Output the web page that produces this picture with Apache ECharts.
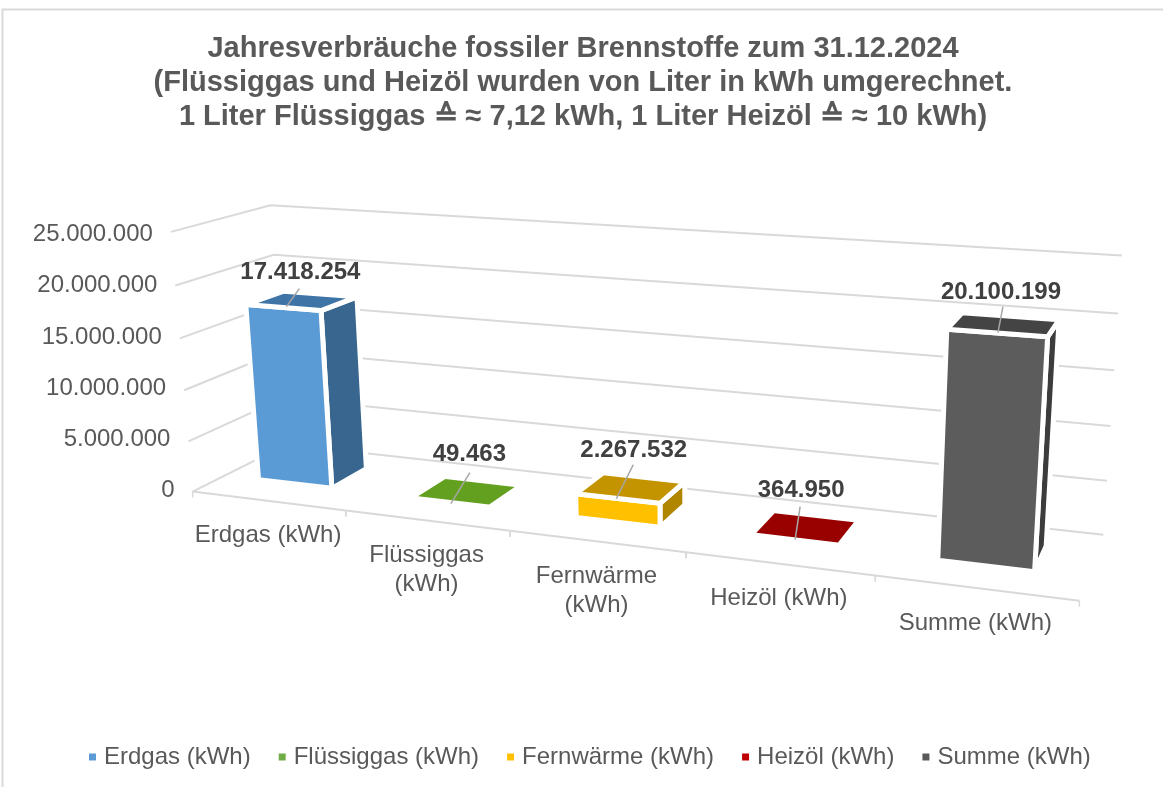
<!DOCTYPE html>
<html>
<head>
<meta charset="utf-8">
<style>html,body{margin:0;padding:0;background:#fff}#main{width:1163px;height:787px}</style>
<script src="https://cdn.jsdelivr.net/npm/echarts@6/dist/echarts.min.js"></script>
</head>
<body>
<div id="main"></div>
<script>
var titleLines = [
    'Jahresverbräuche fossiler Brennstoffe zum 31.12.2024',
    '(Flüssiggas und Heizöl wurden von Liter in kWh umgerechnet.',
    '1 Liter Flüssiggas ≙ ≈ 7,12 kWh, 1 Liter Heizöl ≙ ≈ 10 kWh)'
];
var categories = ['Erdgas (kWh)', 'Flüssiggas (kWh)', 'Fernwärme (kWh)', 'Heizöl (kWh)', 'Summe (kWh)'];
var axisNames = ['Erdgas (kWh)', 'Flüssiggas\n(kWh)', 'Fernwärme\n(kWh)', 'Heizöl (kWh)', 'Summe (kWh)'];
var values = [17418254, 49463, 2267532, 364950, 20100199];
var yTicks = [0, 5000000, 10000000, 15000000, 20000000, 25000000];

// colours per bar: front, side + top, legend
var frontColors = ['#5B9BD5', '#70AD47', '#FFC000', '#C00000', '#5C5C5C'];
var topColors = ['#3E74A6', '#64A020', '#C49400', '#990000', '#444444'];
var sideColors = ['#38668F', '#64A020', '#B08500', '#990000', '#3C3C3C'];
var legendColors = ['#5B9BD5', '#70AD47', '#FFC000', '#C00000', '#595959'];

var TEXT = '#595959';
var FONT = '"Liberation Sans", Arial, sans-serif';
var FONT_SIZE = 24;
var BAR_WIDTH = 0.49;   // share of a category
var DEPTH_FROM = 0.32, DEPTH_TO = 0.72;
var barNudge = [-4, -2.5, -1, -1, -1];   // bars sit a bit left of the category middle

// label and leader offsets against the middle of a bar's top face
var labelShift = [[-1, -28.5], [3, -37.5], [3.5, -37.5], [-4, -37.5], [-2, -32.5]];
var leaderFrom = [[-2, -12], [3.5, -19], [3, -23], [-5, -21], [0, -18]];
var leaderTo = [[-15, 6], [-15.5, 12], [-14, 11], [-10, 12], [-5, 8]];

// camera: where known corners of the 3d box land on screen [u, depth, height, x, y]
var camera = [
    [0, 0, 0, 192, 490], [1, 0, 0, 1078, 600], [0, 1, 0, 289, 445], [1, 1, 0, 1103, 533],
    [0, 1, 1, 268, 207], [1, 1, 1, 1122, 257], [0, 0, 1, 173, 232], [0, 1, 0.8, 273, 255],
    [0.2, 0, 0, 345, 512], [0.4, 0, 0, 510, 534], [0.6, 0, 0, 686, 556], [0.8, 0, 0, 876, 575],
    [1, 1, 0.8, 1119, 313], [1, 1, 0.6, 1114, 370], [1, 1, 0.4, 1111, 425], [1, 1, 0.2, 1107, 480],
    [0, 0, 0.8, 176, 285], [0, 0, 0.6, 180, 337], [0, 0, 0.4, 184, 388], [0, 0, 0.2, 188, 440]
];

// least squares for the 11 numbers of a projective camera
function solveCamera(points) {
    var n = 11, A = [], i, j, k;
    for (i = 0; i < n; i++) {
        A.push([]);
        for (j = 0; j <= n; j++) A[i].push(0);
    }
    function add(row, rhs) {
        for (var a = 0; a < n; a++) {
            for (var b = 0; b < n; b++) A[a][b] += row[a] * row[b];
            A[a][n] += row[a] * rhs;
        }
    }
    points.forEach(function (p) {
        var x = p[3] / 1000, y = p[4] / 1000;
        add([p[0], p[1], p[2], 1, 0, 0, 0, 0, -x * p[0], -x * p[1], -x * p[2]], x);
        add([0, 0, 0, 0, p[0], p[1], p[2], 1, -y * p[0], -y * p[1], -y * p[2]], y);
    });
    for (i = 0; i < n; i++) {
        var best = i;
        for (k = i + 1; k < n; k++) if (Math.abs(A[k][i]) > Math.abs(A[best][i])) best = k;
        var tmp = A[i]; A[i] = A[best]; A[best] = tmp;
        for (k = 0; k < n; k++) {
            if (k === i) continue;
            var f = A[k][i] / A[i][i];
            for (j = i; j <= n; j++) A[k][j] -= f * A[i][j];
        }
    }
    var m = [];
    for (i = 0; i < n; i++) m.push(A[i][n] / A[i][i]);
    return m;
}
var cam = solveCamera(camera);

function project(u, d, h) {
    var w = cam[8] * u + cam[9] * d + cam[10] * h + 1;
    return [
        1000 * (cam[0] * u + cam[1] * d + cam[2] * h + cam[3]) / w,
        1000 * (cam[4] * u + cam[5] * d + cam[6] * h + cam[7]) / w
    ];
}
// grid pixel -> screen pixel, the flat grid only supplies the scales
function fromGrid(sys, px, py, d) {
    return project((px - sys.x) / sys.width, d, (sys.y + sys.height - py) / sys.height);
}
function fmt(v) {
    return String(v).replace(/\B(?=(\d{3})+$)/g, '.');
}
function line(points, color, width) {
    return {type: 'polyline', shape: {points: points}, style: {stroke: color, lineWidth: width, fill: null}};
}
function text(str, x, y, align, weight, color) {
    return {
        type: 'text',
        style: {
            text: str, x: x, y: y, align: align, verticalAlign: 'middle', fill: color || TEXT,
            fontFamily: FONT, fontSize: FONT_SIZE, fontWeight: weight || 'normal', lineHeight: 29
        }
    };
}

function renderWall(params, api) {
    var sys = params.coordSys;
    var c = api.coord([0, api.value(0)]);
    var py = c[1];
    var left = sys.x, right = sys.x + sys.width;
    var a = fromGrid(sys, left, py, 0), b = fromGrid(sys, left, py, 1), e = fromGrid(sys, right, py, 1);
    return {type: 'group', children: [
        line([a, b, e], '#D9D9D9', 2),
        text(fmt(api.value(0)), a[0] - 18, py, 'right')
    ]};
}

function renderFloor(params, api) {
    var sys = params.coordSys;
    var i = params.dataIndex;
    var base = api.coord([i, 0]);
    var half = api.size([1, 0])[0] / 2;
    var from = fromGrid(sys, base[0] - half, base[1], 0);
    var to = fromGrid(sys, base[0] + half, base[1], 0);
    var mid = fromGrid(sys, base[0], base[1], 0);
    var kids = [
        line([from, to], '#D9D9D9', 2),
        line([from, [from[0], from[1] + 6]], '#D9D9D9', 1.5),
        line([to, [to[0], to[1] + 6]], '#D9D9D9', 1.5)
    ];
    var two = axisNames[i].indexOf('\n') >= 0;
    kids.push(text(axisNames[i], mid[0], mid[1] + (two ? 50 : 35), 'center'));
    return {type: 'group', children: kids};
}

function renderBar(params, api) {
    var sys = params.coordSys;
    var i = api.value(0);
    var top = api.coord([i, api.value(1)]);
    var base = api.coord([i, 0]);
    var half = api.size([1, 0])[0] / 2 * BAR_WIDTH;
    // very low bars are only their top face, no white frame, so they get pulled in by hand
    var tall = base[1] - top[1] > 8;
    var inX = tall ? 0 : 4, inD = tall ? 0 : 0.03;
    var x0 = top[0] + barNudge[i] - half + inX, x1 = top[0] + barNudge[i] + half - inX;
    var d0 = DEPTH_FROM + inD, d1 = DEPTH_TO - inD;
    var a = fromGrid(sys, x0, base[1], d0), b = fromGrid(sys, x1, base[1], d0);
    var c = fromGrid(sys, x1, top[1], d0), e = fromGrid(sys, x0, top[1], d0);
    var f = fromGrid(sys, x1, base[1], d1), g = fromGrid(sys, x1, top[1], d1);
    var h = fromGrid(sys, x0, top[1], d1);
    function face(points, color) {
        return {type: 'polygon', shape: {points: points}, style: {fill: color, stroke: tall ? '#fff' : null, lineWidth: tall ? 5 : 0, lineJoin: 'round'}};
    }
    var kids = [];
    if (tall) {
        kids.push(face([b, f, g, c], sideColors[i]));
        kids.push(face([a, b, c, e], frontColors[i]));
    }
    kids.push(face([e, c, g, h], topColors[i]));
    var cx = (e[0] + g[0]) / 2, cy = (e[1] + g[1]) / 2;
    kids.push(line([
        [cx + leaderFrom[i][0], cy + leaderFrom[i][1]],
        [cx + leaderTo[i][0], cy + leaderTo[i][1]]
    ], '#A6A6A6', 1.5));
    kids.push(text(fmt(api.value(1)), cx + labelShift[i][0], cy + labelShift[i][1], 'center', 'bold', '#404040'));
    return {type: 'group', children: kids};
}

var series = [
    {type: 'custom', name: 'wall', silent: true, z: 1, renderItem: renderWall, data: yTicks.map(function (t) { return [t]; }), encode: {y: 0}},
    {type: 'custom', name: 'floor', silent: true, z: 1, renderItem: renderFloor, data: categories.map(function (c, i) { return [i, 0]; }), encode: {x: 0, y: 1}}
];
categories.forEach(function (name, i) {
    series.push({
        type: 'custom',
        name: name,
        z: 2 + i,
        itemStyle: {color: legendColors[i]},
        renderItem: renderBar,
        encode: {x: 0, y: 1},
        data: [[i, values[i]]]
    });
});

var myEcharts = echarts.init(document.getElementById('main'));
myEcharts.setOption({
    animation: false,
    backgroundColor: '#fff',
    title: {
        text: titleLines.join('\n'),
        left: 578,
        top: 27,
        textAlign: 'center',
        textStyle: {fontFamily: FONT, fontSize: 29, fontWeight: 'bold', color: TEXT, lineHeight: 34}
    },
    legend: {
        data: categories,
        left: 84,
        top: 740,
        itemWidth: 7,
        itemHeight: 7,
        itemGap: 28,
        icon: 'rect',
        textStyle: {fontFamily: FONT, fontSize: FONT_SIZE, color: TEXT, padding: [0, 0, 0, 3]}
    },
    graphic: [{
        type: 'polyline',
        silent: true,
        shape: {points: [[2.5, 787], [2.5, 9.5], [1163, 9.5]]},
        style: {stroke: '#D9D9D9', lineWidth: 2, fill: null}
    }],
    grid: {left: 192, right: 85, top: 234.5, bottom: 296.5},
    xAxis: {type: 'category', data: categories, show: false},
    yAxis: {type: 'value', min: 0, max: 25000000, interval: 5000000, show: false},
    series: series
});
</script>
</body>
</html>
